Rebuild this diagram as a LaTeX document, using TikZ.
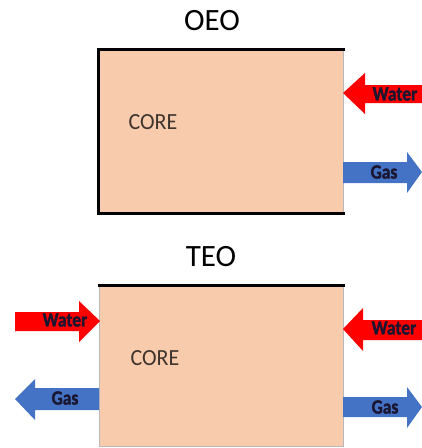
\documentclass[tikz,border=0pt]{standalone}
\usepackage{fontspec}
\setmainfont{Carlito}
\newfontfamily\arrfont{Carlito}[BoldFeatures={FakeBold=1.6}]
\definecolor{peach}{HTML}{F8CBAD}
\definecolor{redarrow}{HTML}{FF0000}
\definecolor{bluearrow}{HTML}{4472C4}
\definecolor{arrowtext}{HTML}{1A1530}
\definecolor{coretext}{HTML}{3E342E}
\newcommand\tallbox[1]{\scalebox{1}[1.15]{#1}}
\begin{document}
\begin{tikzpicture}[x=1pt,y=-1pt,
  corebox/.style={fill=peach,inner sep=0pt,anchor=north west},
  title/.style={font=\fontsize{31}{35}\selectfont,text=black},
  corelabel/.style={font=\fontsize{22}{26}\selectfont,text=coretext},
  arrlabel/.style={font=\arrfont\bfseries\fontsize{17.5}{20}\selectfont,text=arrowtext,inner sep=0pt},
  water/.style={fill=redarrow,draw=none},
  gas/.style={fill=bluearrow,draw=none},
  heavy/.style={line width=3pt,line cap=rect},
  light/.style={draw=gray!55,line width=0.6pt}]
\useasboundingbox (0,0) rectangle (422,448);

% titles
\node[title] (toeo) at (212,21) {OEO};
\node[title] (tteo) at (211,257) {TEO};

% OEO box
\node[corebox,minimum width=245pt,minimum height=164pt] (oeo) at (98,49) {};
\draw[light] (oeo.north east) -- (oeo.south east);
\draw[heavy] (oeo.north east) -- (oeo.north west) -- (oeo.south west) -- (oeo.south east);
\node[corelabel] (coreA) at (153,122) {\scalebox{1}[1.05]{CORE}};

% TEO box
\node[corebox,minimum width=244pt,minimum height=161pt] (teo) at (99,285) {};
\draw[light] (teo.north west) -- (teo.south west) -- (teo.south east) -- (teo.north east);
\draw[heavy] (teo.north west) -- (teo.north east);
\node[corelabel] (coreB) at (155,358) {\scalebox{1}[1.05]{CORE}};

% OEO arrows
\fill[water] (343,93) -- (365,73) -- (365,85) -- (422,85) -- (422,103) -- (365,103) -- (365,114) -- cycle;
\node[arrlabel] (w1) at (395,94) {\tallbox{Water}};
\fill[gas] (343,162) -- (407,162) -- (407,152) -- (422,172) -- (407,193) -- (407,183) -- (343,183) -- cycle;
\node[arrlabel] (g1) at (384,172) {\tallbox{Gas}};

% TEO arrows left
\fill[water] (15,312) -- (79,312) -- (79,301) -- (100,321) -- (79,342) -- (79,331) -- (15,331) -- cycle;
\node[arrlabel] (w2) at (65,320) {\tallbox{Water}};
\fill[gas] (15,399) -- (35,379) -- (35,388) -- (99,388) -- (99,410) -- (35,410) -- (35,420) -- cycle;
\node[arrlabel] (g2) at (65,398) {\tallbox{Gas}};

% TEO arrows right
\fill[water] (343,329) -- (363,308) -- (363,320) -- (422,320) -- (422,340) -- (363,340) -- (363,351) -- cycle;
\node[arrlabel] (w3) at (394,328) {\tallbox{Water}};
\fill[gas] (343,397) -- (407,397) -- (407,387) -- (422,407) -- (407,428) -- (407,417) -- (343,417) -- cycle;
\node[arrlabel] (g3) at (385,407) {\tallbox{Gas}};
\end{tikzpicture}
\end{document}
